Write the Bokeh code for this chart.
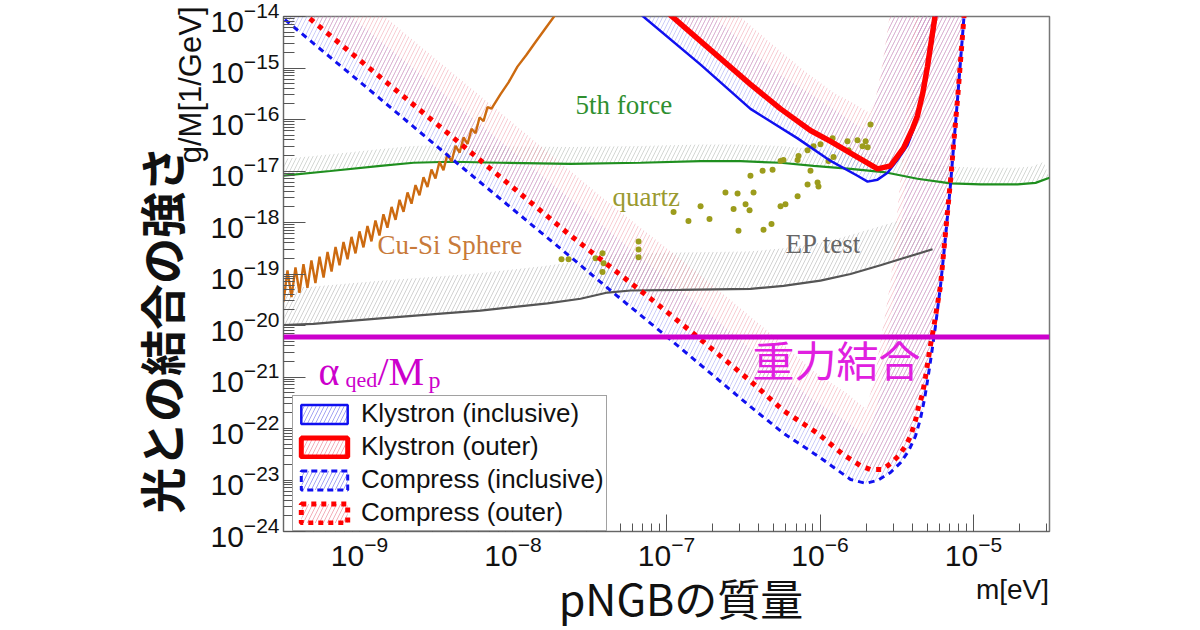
import numpy as np
from bokeh.plotting import figure
from bokeh.models import (Range1d, FixedTicker, Label, Span, Legend, LegendItem, Title,
                          LogAxis, CustomJSTickFormatter)
from bokeh.embed import file_html
from bokeh.resources import INLINE

# ---------------- data: log10(m / eV) and log10(g/M / GeV^-1) ----------------
fifth_force_m = [-9.495, -9.189, -8.863, -8.648, -8.407, -8.081, -7.625, -7.169, -6.778, -6.518,
                 -6.257, -6.042, -5.801, -5.586, -5.365, -5.150, -4.954, -4.713, -4.596, -4.505]
fifth_force_g = [-17.09, -17.00, -16.90, -16.84, -16.82, -16.84, -16.86, -16.84, -16.81, -16.81,
                 -16.84, -16.90, -16.96, -17.02, -17.15, -17.24, -17.26, -17.26, -17.23, -17.13]

ep_test_m = [-9.495, -9.300, -8.863, -8.427, -8.212, -7.775, -7.560, -7.384, -7.234, -6.909,
             -6.453, -6.238, -5.997, -5.801, -5.606, -5.475, -5.267]
ep_test_g = [-19.99, -19.97, -19.86, -19.76, -19.71, -19.57, -19.48, -19.36, -19.32, -19.31,
             -19.29, -19.23, -19.13, -19.00, -18.83, -18.71, -18.52]

cusi_m = [-9.495, -9.469, -9.443, -9.417, -9.391, -9.365, -9.339, -9.313, -9.287, -9.260,
          -9.234, -9.208, -9.182, -9.156, -9.130, -9.104, -9.078, -9.052, -9.026, -9.000,
          -8.974, -8.948, -8.922, -8.896, -8.870, -8.844, -8.818, -8.791, -8.765, -8.739,
          -8.713, -8.687, -8.661, -8.635, -8.609, -8.583, -8.557, -8.531, -8.505, -8.479,
          -8.453, -8.427, -8.400, -8.374, -8.348, -8.322, -8.296, -8.270, -8.244, -8.218,
          -8.192, -8.166, -8.140, -8.081, -8.029, -7.971, -7.912, -7.853, -7.788, -7.723]
cusi_g = [-19.534, -18.931, -19.449, -18.874, -19.366, -18.809, -19.269, -18.738, -19.174, -18.666,
          -19.069, -18.573, -18.952, -18.477, -18.832, -18.380, -18.714, -18.279, -18.599, -18.172,
          -18.483, -18.067, -18.366, -17.960, -18.252, -17.840, -18.101, -17.698, -17.947, -17.559,
          -17.792, -17.416, -17.635, -17.273, -17.473, -17.122, -17.311, -16.971, -17.145, -16.822,
          -16.983, -16.672, -16.815, -16.510, -16.645, -16.349, -16.475, -16.181, -16.267, -15.960,
          -16.031, -15.761, -15.790, -15.508, -15.279, -14.973, -14.744, -14.496, -14.229, -13.962]

quartz_m = [-7.684, -7.638, -7.462, -7.417, -7.410, -7.417, -7.182, -7.182, -7.182, -6.954,
            -6.857, -6.778, -6.720, -6.616, -6.563, -6.531, -6.537, -6.485, -6.459, -6.453,
            -6.433, -6.374, -6.368, -6.316, -6.309, -6.257, -6.238, -6.257, -6.225, -6.146,
            -6.140, -6.146, -6.081, -6.042, -5.997, -6.062, -6.081, -6.016, -6.010, -5.945,
            -5.912, -5.918, -5.821, -5.814, -5.756, -5.723, -5.703, -5.690, -5.671]
quartz_g = [-18.714, -18.714, -18.695, -18.599, -18.790, -18.962, -18.370, -18.523, -18.676, -17.798,
            -17.969, -17.683, -17.931, -17.416, -17.740, -18.160, -17.435, -17.645, -17.760, -17.092,
            -17.416, -16.996, -18.141, -18.027, -16.977, -16.805, -16.786, -17.683, -17.645, -16.786,
            -16.710, -17.492, -16.595, -16.519, -16.481, -16.996, -17.263, -17.225, -17.302, -16.805,
            -16.729, -16.366, -16.424, -16.595, -16.405, -16.519, -16.424, -16.538, -16.099]

klystron_incl_m = [-7.182, -6.778, -6.453, -6.146, -5.931, -5.756, -5.690, -5.625, -5.560, -5.495,
                   -5.430, -5.365, -5.313, -5.267, -5.241]
klystron_incl_g = [-13.924, -14.935, -15.794, -16.366, -16.805, -17.092, -17.206, -17.168, -17.034, -16.786,
                   -16.500, -15.985, -15.317, -14.458, -13.924]

klystron_outer_m = [-6.993, -6.713, -6.453, -6.257, -6.062, -5.931, -5.801, -5.703, -5.625, -5.541,
                    -5.456, -5.397, -5.365, -5.332, -5.300, -5.274, -5.247]
klystron_outer_g = [-13.924, -14.649, -15.317, -15.794, -16.214, -16.424, -16.653, -16.824, -16.958, -16.901,
                    -16.557, -16.176, -15.927, -15.508, -14.973, -14.458, -13.924]

compress_incl_m = [-9.541, -8.863, -8.420, -7.645, -7.332, -7.019, -6.453, -6.238, -6.016, -5.801,
                   -5.703, -5.625, -5.541, -5.475, -5.423, -5.378, -5.345, -5.319, -5.300, -5.274,
                   -5.247, -5.215, -5.182, -5.150, -5.104, -5.059]
compress_incl_g = [-13.924, -15.603, -16.710, -18.618, -19.401, -20.164, -21.576, -22.092, -22.531, -22.989,
                   -23.065, -23.008, -22.855, -22.664, -22.435, -22.149, -21.805, -21.424, -21.080, -20.565,
                   -19.992, -19.229, -18.275, -17.263, -15.603, -13.885]

compress_outer_m = [-9.378, -8.863, -8.407, -7.632, -7.104, -6.798, -6.453, -6.238, -6.016, -5.847,
                    -5.736, -5.671, -5.593, -5.541, -5.488, -5.443, -5.410, -5.378, -5.358, -5.332,
                    -5.313, -5.280, -5.260, -5.215, -5.150, -5.104, -5.059]
compress_outer_g = [-13.905, -15.183, -16.309, -18.237, -19.477, -20.221, -21.080, -21.653, -22.092, -22.511,
                    -22.721, -22.798, -22.798, -22.683, -22.531, -22.340, -22.149, -21.844, -21.576, -21.328,
                    -21.004, -20.374, -20.050, -19.229, -17.187, -15.603, -13.885]

gravity_coupling_g = 6.0e-21   # alpha_qed / M_p

legend_labels = ["Klystron (inclusive)", "Klystron (outer)",
                 "Compress (inclusive)", "Compress (outer)"]

# ---------------- layout ----------------
X_RANGE = (10 ** -9.495, 10 ** -4.505)
Y_RANGE = (1e-24, 1e-14)
W, H = 1200, 630
BL, BR, BT, BB = 283, 151, 16, 90
FRAME_W, FRAME_H = W - BL - BR, H - BT - BB

SX = FRAME_W / (np.log10(X_RANGE[1]) - np.log10(X_RANGE[0]))
SY = FRAME_H / (np.log10(Y_RANGE[1]) - np.log10(Y_RANGE[0]))


def lin(a):
    return list(10.0 ** np.asarray(a, dtype=float))


def exclusion_band(lm, lg, width_px):
    """ROOT-style exclusion band: offset of the curve toward its left-hand side."""
    P = np.column_stack([np.asarray(lm, float) * SX, np.asarray(lg, float) * SY])
    d = np.diff(P, axis=0)
    t = d / np.linalg.norm(d, axis=1)[:, None]
    n = np.column_stack([-t[:, 1], t[:, 0]])
    vn = np.zeros_like(P)
    vn[0], vn[-1] = n[0], n[-1]
    for k in range(1, len(P) - 1):
        m = n[k - 1] + n[k]
        m /= np.linalg.norm(m)
        c = max(float(np.dot(m, n[k])), 0.55)
        vn[k] = m / c
    Q = P + width_px * vn
    poly = np.vstack([P, Q[::-1]])
    return list(10 ** (poly[:, 0] / SX)), list(10 ** (poly[:, 1] / SY))


p = figure(width=W, height=H, x_axis_type="log", y_axis_type="log",
           x_range=Range1d(*X_RANGE), y_range=Range1d(*Y_RANGE),
           output_backend="svg", toolbar_location=None,
           min_border_left=BL, min_border_right=BR, min_border_top=BT, min_border_bottom=BB)
p.grid.visible = False
p.background_fill_color = "white"
p.border_fill_color = "white"
p.outline_line_color = "#777777"
p.outline_line_width = 1.5

BLUE, RED = "#1010f0", "#ff0000"
BLUE_H, RED_H = "#8c8cf0", "#f09aa8"

# hatched exclusion bands
bands = [
    (fifth_force_m, fifth_force_g, 17, "#b8bcb8", 0.6),
    (ep_test_m, ep_test_g, 38, "#b4b4b4", 0.6),
    (klystron_incl_m, klystron_incl_g, 45, BLUE_H, 0.45),
    (klystron_outer_m, klystron_outer_g, 45, RED_H, 0.5),
    (compress_incl_m, compress_incl_g, 45, BLUE_H, 0.45),
    (compress_outer_m, compress_outer_g, 50, RED_H, 0.5),
]
for bm, bg, bw, hc, ha in bands:
    bx, by = exclusion_band(bm, bg, bw)
    p.patch(bx, by, fill_color=None, line_color=None, hatch_pattern="/",
            hatch_color=hc, hatch_alpha=ha, hatch_scale=8, hatch_weight=1)

# curves
p.line(lin(fifth_force_m), lin(fifth_force_g), line_color="#1f8f1f", line_width=2.2)
p.line(lin(ep_test_m), lin(ep_test_g), line_color="#555555", line_width=2.2)
p.line(lin(cusi_m), lin(cusi_g), line_color="#cc6a10", line_width=2.4)
p.scatter(lin(quartz_m), lin(quartz_g), size=6, fill_color="#9c9c1c", line_color=None)

grav = Span(location=gravity_coupling_g, dimension="width", line_color="#cc00cc", line_width=5)
p.add_layout(grav)

p.line(lin(compress_incl_m), lin(compress_incl_g), line_color=BLUE, line_width=3, line_dash="6 5")
p.line(lin(compress_outer_m), lin(compress_outer_g), line_color=RED, line_width=5, line_dash="5 6")
p.line(lin(klystron_incl_m), lin(klystron_incl_g), line_color=BLUE, line_width=2.5)
p.line(lin(klystron_outer_m), lin(klystron_outer_g), line_color=RED, line_width=5.5)

# legend swatches (renderers hold one undefined point so the swatch is drawn)
styles = [
    dict(line_color=BLUE, line_width=2.5, line_dash="solid", hatch_color=BLUE_H),
    dict(line_color=RED, line_width=5, line_dash="solid", hatch_color=RED_H),
    dict(line_color=BLUE, line_width=3, line_dash="6 4", hatch_color=BLUE_H),
    dict(line_color=RED, line_width=5, line_dash="5 5", hatch_color=RED_H),
]
items = []
for lab, st in zip(legend_labels, styles):
    r = p.quad(left=[np.nan], right=[np.nan], top=[np.nan], bottom=[np.nan], fill_color=None,
               hatch_pattern="/", hatch_alpha=0.8, hatch_scale=8, hatch_weight=1, **st)
    items.append(LegendItem(label=lab, renderers=[r]))
legend = Legend(items=items, location=(9, 0), label_text_font="Liberation Sans",
                label_text_font_size="26px", label_text_color="#111111",
                glyph_width=58, glyph_height=24, label_standoff=8, padding=2, spacing=2,
                margin=0, border_line_color="#444444", border_line_width=1.5,
                background_fill_color="white", background_fill_alpha=1.0)
p.add_layout(legend)

# axes
p.yaxis.ticker = FixedTicker(ticks=[10.0 ** e for e in range(-24, -13)],
                             minor_ticks=[k * 10.0 ** e for e in range(-25, -13) for k in range(2, 10)])
p.xaxis.ticker = FixedTicker(ticks=[10.0 ** e for e in range(-10, -3)],
                             minor_ticks=[k * 10.0 ** e for e in range(-11, -3) for k in range(2, 10)])
for ax in (p.xaxis[0], p.yaxis[0]):
    ax.axis_line_color = "#666666"
    ax.major_tick_line_color = "#555555"
    ax.minor_tick_line_color = "#555555"
    ax.major_tick_out = 0
    ax.minor_tick_out = 0
    ax.major_label_text_font = "Liberation Sans"
    ax.major_label_text_font_size = "30px"
    ax.major_label_text_color = "#111111"
p.yaxis.major_tick_in = 22
p.yaxis.minor_tick_in = 11
p.xaxis.major_tick_in = 17
p.xaxis.minor_tick_in = 8
p.yaxis.major_label_standoff = 4
p.xaxis.major_label_standoff = 4

# second, bare bottom axis carrying the unit "m[eV]" and the Japanese axis title
unit_pos = 10 ** (np.log10(X_RANGE[0]) + (FRAME_W - 37) / SX)
unit_axis = LogAxis(ticker=FixedTicker(ticks=[unit_pos], minor_ticks=[]),
                    formatter=CustomJSTickFormatter(code="return 'm[eV]'"),
                    axis_line_color=None, major_tick_in=0, major_tick_out=0,
                    minor_tick_in=0, minor_tick_out=0, major_label_standoff=5,
                    major_label_text_font="Liberation Sans", major_label_text_font_size="28px",
                    major_label_text_color="#111111",
                    axis_label="\u00a0\u00a0\u00a0pNGBの質量", axis_label_text_font="Noto Sans CJK JP",
                    axis_label_text_font_size="43px", axis_label_text_font_style="normal",
                    axis_label_text_color="#111111", axis_label_standoff=-42)
p.add_layout(unit_axis, "below")

# y titles
p.add_layout(Title(text="g/M[1/GeV]", align="right", offset=-10, standoff=0,
                   text_font="Liberation Sans", text_font_size="31px",
                   text_font_style="normal", text_color="#111111"), "left")
p.add_layout(Title(text="光との結合の強さ", align="left", offset=18, standoff=-44,
                   text_font="Noto Sans CJK JP", text_font_size="46px",
                   text_font_style="bold", text_color="#111111"), "left")


def add_text(txt, x, y, size, color, font="Liberation Serif", align="left",
             baseline="middle"):
    p.add_layout(Label(x=x, y=y, x_units="screen", y_units="screen", text=txt,
                       text_font=font, text_font_size=size, text_color=color,
                       text_align=align, text_baseline=baseline))


add_text("5th force", 292, 427, "27px", "#2f8f2f")
add_text("quartz", 329, 335, "27px", "#9a9a30")
add_text("Cu-Si Sphere", 94, 287, "27px", "#c87a3a")
add_text("EP test", 502, 288, "27px", "#666666")
add_text("α", 35, 160, "40px", "#cc00cc", baseline="alphabetic")
add_text("qed", 62, 152, "22px", "#cc00cc", baseline="alphabetic")
add_text("/M", 94, 160, "40px", "#cc00cc", baseline="alphabetic")
add_text("p", 145, 152, "24px", "#cc00cc", baseline="alphabetic")
add_text("重力結合", 469, 173, "42px", "#e020e0", font="Noto Sans CJK JP")

open("out.html", "w").write(file_html(p, INLINE))
